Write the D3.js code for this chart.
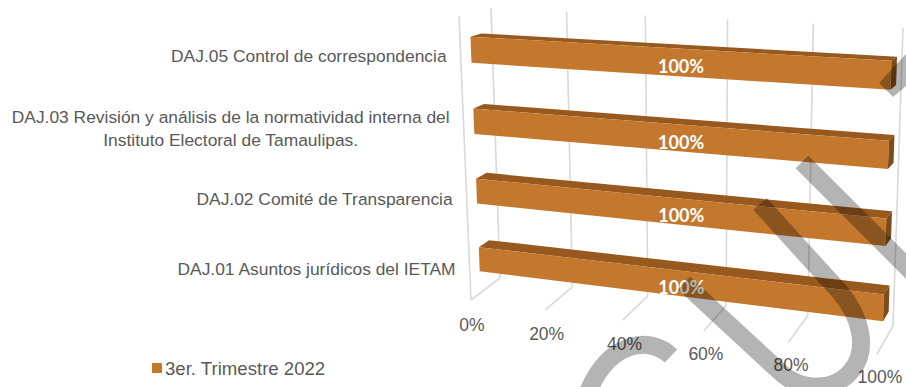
<!DOCTYPE html>
<html>
<head>
<meta charset="utf-8">
<script src="https://cdn.jsdelivr.net/npm/d3@7"></script>
<style>
  html, body { margin: 0; padding: 0; background: #ffffff; }
  svg { display: block; }
</style>
</head>
<body>
<svg id="chart" width="906" height="387"></svg>
<script>
// ---- data ----
const categories = [
  "DAJ.05 Control de correspondencia",
  "DAJ.03 Revisión y análisis de la normatividad interna del\nInstituto Electoral de Tamaulipas.",
  "DAJ.02 Comité de Transparencia",
  "DAJ.01 Asuntos jurídicos del IETAM"
];
const values = [1, 1, 1, 1];
const seriesName = "3er. Trimestre 2022";
const tickValues = [0, 0.2, 0.4, 0.6, 0.8, 1];

// ---- styles ----
const colFront = "#C4782D";
const colTop = "#98591F";
const colEnd = "#7F4A17";
const gridCol = "#D9D9D9";
const textCol = "#595959";

const svg = d3.select("#chart");

// ---- 3D frame: back wall and front plane as projected quads ----
// corners: [bottom-left, bottom-right, top-right, top-left]
const backQuad = [[500, 278], [893, 326], [903, 28], [491, 8]];
const frontQuad = [[471, 300], [877, 354], [887, 38], [459, 16]];

function homography(q) {
  const [[x0, y0], [x1, y1], [x2, y2], [x3, y3]] = q;
  const dx1 = x1 - x2, dx2 = x3 - x2, dx3 = x0 - x1 + x2 - x3;
  const dy1 = y1 - y2, dy2 = y3 - y2, dy3 = y0 - y1 + y2 - y3;
  const den = dx1 * dy2 - dy1 * dx2;
  const g = (dx3 * dy2 - dy3 * dx2) / den;
  const h = (dx1 * dy3 - dy1 * dx3) / den;
  const a = x1 - x0 + g * x1, b = x3 - x0 + h * x3, c = x0;
  const d = y1 - y0 + g * y1, e = y3 - y0 + h * y3, f = y0;
  return (u, v) => {
    const w = g * u + h * v + 1;
    return [(a * u + b * v + c) / w, (d * u + e * v + f) / w];
  };
}
const backH = homography(backQuad);
const frontH = homography(frontQuad);
// u: value fraction, v: height (0 floor .. 1 top), depth: 0 front .. 1 back
function project(u, v, depth) {
  const p = frontH(u, v), q = backH(u, v);
  return [p[0] + (q[0] - p[0]) * depth, p[1] + (q[1] - p[1]) * depth];
}

// ---- scales ----
const x = d3.scaleLinear().domain([0, 1]).range([0, 1]);
const y = d3.scaleBand()
  .domain(categories.slice().reverse())
  .range([0, 1])
  .paddingInner(0.64)
  .paddingOuter(0.32);
const barD0 = 0.33, barD1 = 0.68;

const line = d3.line();

// ---- gridlines ----
const grid = svg.append("g").attr("fill", "none").attr("stroke", gridCol).attr("stroke-width", 1.6);
tickValues.forEach(t => {
  // back wall vertical
  grid.append("path").attr("d", line([backH(x(t), 0), backH(x(t), 1)]));
  // floor line
  grid.append("path").attr("d", line([backH(x(t), 0), frontH(x(t), 0)]));
});
// side wall front edge
grid.append("path").attr("d", line([frontH(0, 0), frontH(0, 1)]));

// ---- tick labels ----
const fmt = d3.format(".0%");
svg.append("g").selectAll("text").data(tickValues).join("text")
  .attr("x", t => frontH(x(t), 0)[0] + 1 + t * 2)
  .attr("y", t => frontH(x(t), 0)[1] + 25 - t * 2.5)
  .attr("text-anchor", "middle")
  .attr("dominant-baseline", "central")
  .attr("font-family", "Liberation Sans, Arial, sans-serif")
  .attr("font-size", 17.5)
  .attr("fill", textCol)
  .text(fmt);

// ---- bars ----
const bars = svg.append("g");
categories.forEach((cat, i) => {
  const u0 = x(0), u1 = x(values[i]);
  const h0 = y(cat), h1 = h0 + y.bandwidth();
  const g = bars.append("g");
  const poly = pts => line(pts) + "Z";
  g.append("path").attr("fill", colTop)
    .attr("d", poly([project(u0, h1, barD0), project(u1, h1, barD0), project(u1, h1, barD1), project(u0, h1, barD1)]));
  g.append("path").attr("fill", colFront)
    .attr("d", poly([project(u0, h0, barD0), project(u1, h0, barD0), project(u1, h1, barD0), project(u0, h1, barD0)]));
  g.append("path").attr("fill", colEnd)
    .attr("d", poly([project(u1, h0, barD0), project(u1, h0, barD1), project(u1, h1, barD1), project(u1, h1, barD0)]));

  // value label centred on the front face
  const hc = h0 + y.bandwidth() / 2;
  const pl = project(u0, hc, barD0), pr = project(u1, hc, barD0);
  g.append("text")
    .attr("x", (pl[0] + pr[0]) / 2)
    .attr("y", (pl[1] + pr[1]) / 2 + 3.5)
    .attr("text-anchor", "middle")
    .attr("dominant-baseline", "central")
    .attr("font-family", "Lato, Carlito, sans-serif")
    .attr("font-weight", "bold")
    .attr("font-size", 18)
    .attr("fill", "#ffffff")
    .text(fmt(values[i]));
});

// ---- category labels ----
const catG = svg.append("g")
  .attr("font-family", "Liberation Sans, Arial, sans-serif")
  .attr("font-size", 17.4)
  .attr("fill", textCol);
categories.forEach(cat => {
  const hc = y(cat) + y.bandwidth() / 2;
  const p = frontH(0, hc);
  const right = p[0] - 14;
  const cy = p[1] + 2.5;
  const lines = cat.split("\n");
  const t = catG.append("text").attr("dominant-baseline", "central");
  const lh = 23;
  lines.forEach((ln, k) => {
    t.append("tspan").attr("y", cy + (k - (lines.length - 1) / 2) * lh).text(ln);
  });
  // right-align the block, centre the lines within it
  const widths = t.selectAll("tspan").nodes().map(n => n.getComputedTextLength());
  const w = d3.max(widths);
  t.attr("text-anchor", "middle");
  t.selectAll("tspan").attr("x", right - w / 2);
});

// ---- legend ----
const leg = svg.append("g").attr("transform", "translate(152,368)");
leg.append("rect").attr("x", 0).attr("y", -5).attr("width", 10).attr("height", 10).attr("fill", colFront);
leg.append("text").attr("x", 13).attr("y", 0)
  .attr("dominant-baseline", "central")
  .attr("font-family", "Liberation Sans, Arial, sans-serif")
  .attr("font-size", 18.6)
  .attr("fill", textCol)
  .text(seriesName);

// ---- overlay strokes ----
const mark = svg.append("g").attr("opacity", 0.29);
mark.append("path").attr("fill", "none").attr("stroke", "#000").attr("stroke-width", 18)
  .attr("d", "M671,356 C650,336 610,340 588,392");
mark.append("path").attr("fill", "none").attr("stroke", "#000").attr("stroke-width", 18)
  .attr("d", "M684,283 L778,370 C800,392 835,392 852,370 C868,350 862,318 840,292 L760,204");
mark.append("path").attr("fill", "none").attr("stroke", "#000").attr("stroke-width", 18)
  .attr("d", "M802,162 L935,295");
mark.append("path").attr("fill", "#000")
  .attr("d", "M906,54 L879,83 L893,97 L906,86 Z");
</script>
</body>
</html>
